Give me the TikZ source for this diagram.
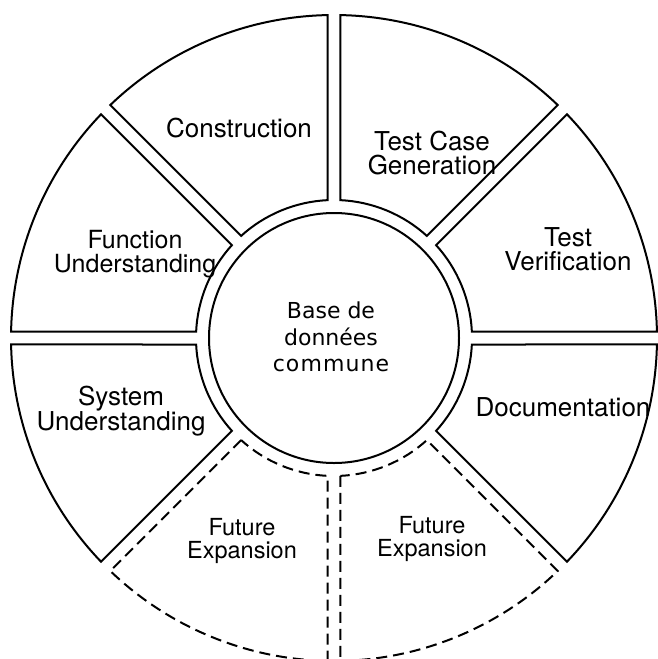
\documentclass[tikz,border=0pt]{standalone}
\usepackage{fontspec}
\setmainfont{TeX Gyre Heros}
\newfontfamily\basefont{DejaVu Sans}
\begin{document}
\begin{tikzpicture}[x=1pt,y=1pt,
  secline/.style={line width=2pt,line join=miter},
  fdash/.style={dash pattern=on 11pt off 6pt},
  lab/.style={align=center,inner sep=0pt,font=\fontsize{26}{23.5}\selectfont},
  flab/.style={align=center,inner sep=0pt,font=\fontsize{23.5}{22.5}\selectfont},
  base/.style={align=center,inner sep=0pt,font=\basefont\fontsize{22}{26.5}\selectfont}]
\useasboundingbox (0,0) rectangle (657,-659);
\coordinate (O) at (334,-338);
\pgfmathsetmacro\Ri{138}
\pgfmathsetmacro\Ro{323}
\pgfmathsetmacro\dIn{asin(6.5/\Ri)}
\pgfmathsetmacro\dOut{asin(6.5/\Ro)}
\foreach \a/\st in {90/solid,45/solid,0/solid,-45/solid,135/solid,180/solid,-90/fdash,-135/fdash}{
  \pgfmathsetmacro\sa{\a+\dOut}
  \pgfmathsetmacro\ea{\a+45-\dOut}
  \pgfmathsetmacro\si{\a+45-\dIn}
  \pgfmathsetmacro\ei{\a+\dIn}
  \draw[secline,\st] ([shift={(\ei:\Ri pt)}]O) -- ([shift={(\sa:\Ro pt)}]O)
     arc[start angle=\sa, end angle=\ea, radius=\Ro pt]
     -- ([shift={(\si:\Ri pt)}]O)
     arc[start angle=\si, end angle=\ei, radius=\Ri pt] -- cycle;
}
\draw[secline] (O) circle[radius=125pt];
\node[base] (db) at (331,-337) {Base de\\données\\\addfontfeature{LetterSpace=5}commune};
\node[lab] (construction) at (239,-128) {Construction};
\node[lab] (tcg) at (432,-153) {Test Case\\Generation};
\node[lab] (tv) at (568,-249) {Test\\Verification};
\node[lab,font=\fontsize{25}{23.5}\selectfont] (fu) at (135,-254) {Function\\Understanding};
\node[lab] (su) at (121,-411) {System\\Understanding};
\node[lab] (doc) at (563,-407) {Documentation};
\node[flab] (fe1) at (242,-541) {Future\\Expansion};
\node[flab] (fe2) at (432,-539) {Future\\Expansion};
\end{tikzpicture}
\end{document}
